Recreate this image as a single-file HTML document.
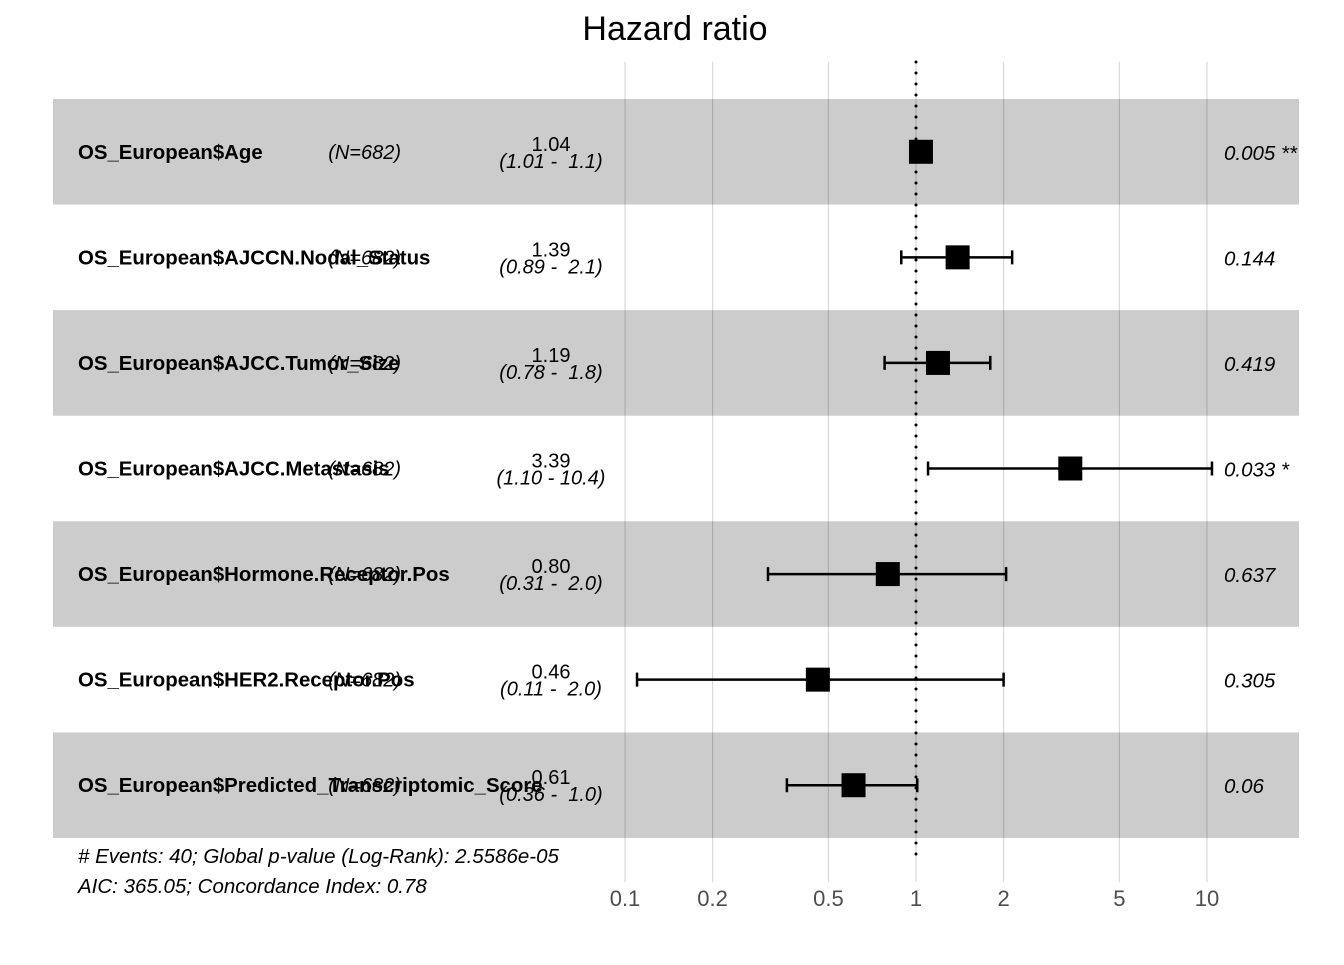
<!DOCTYPE html>
<html><head><meta charset="utf-8"><style>
body{margin:0;background:#fff}
svg text{font-family:"Liberation Sans",Arial,sans-serif;white-space:pre}
</style></head><body>
<svg id="chart" width="1344" height="960">
<text x="675" y="40" font-size="34" text-anchor="middle">Hazard ratio</text>
<g id="bands"></g><g id="grid"></g><g id="marks"></g><g id="labels"></g>
<text x="78" y="863" font-size="20.5" font-style="italic"># Events: 40; Global p-value (Log-Rank): 2.5586e-05</text>
<text x="78" y="893" font-size="20.5" font-style="italic">AIC: 365.05; Concordance Index: 0.78</text>
</svg>
<script>
const names=["OS_European$Age","OS_European$AJCCN.Nodal_Status","OS_European$AJCC.Tumor_Size","OS_European$AJCC.Metastasis","OS_European$Hormone.Receptor.Pos","OS_European$HER2.Receptor.Pos","OS_European$Predicted_Transcriptomic_Score"];
const nLabels=["(N=682)","(N=682)","(N=682)","(N=682)","(N=682)","(N=682)","(N=682)"];
const hr=[1.04,1.39,1.19,3.39,0.80,0.46,0.61];
const lo=[1.01,0.89,0.78,1.10,0.31,0.11,0.36];
const hi=[1.1,2.14,1.8,10.4,2.04,2.0,1.01];
const hrText=["1.04","1.39","1.19","3.39","0.80","0.46","0.61"];
const ciText=["(1.01 -  1.1)","(0.89 -  2.1)","(0.78 -  1.8)","(1.10 - 10.4)","(0.31 -  2.0)","(0.11 -  2.0)","(0.36 -  1.0)"];
const pText=["0.005 **","0.144","0.419","0.033 *","0.637","0.305","0.06"];
const ticks=[0.1,0.2,0.5,1,2,5,10];

const NS="http://www.w3.org/2000/svg";
const xs=v=>916+291*Math.log10(v);
const top0=99,rowH=(838-99)/7;
const yc=i=>top0+rowH*(i+0.5);
function mk(tag,attrs,parent,txt){const e=document.createElementNS(NS,tag);for(const k in attrs)e.setAttribute(k,attrs[k]);if(txt!==undefined)e.textContent=txt;document.getElementById(parent).appendChild(e);return e;}

names.forEach((n,i)=>{
  if(i%2===0){const b=mk('rect',{x:53,y:top0+rowH*i,width:1246,height:rowH,fill:'#cccccc'},'bands');
  
  }
});
ticks.forEach(t=>{
  const l=mk('line',{x1:xs(t),x2:xs(t),y1:62,y2:882,stroke:'#000','stroke-opacity':0.15,'stroke-width':1.2},'grid');
  
  
  const tx=mk('text',{x:xs(t),y:906,'font-size':22,fill:'#4d4d4d','text-anchor':'middle'},'grid',String(t));
  
  
});
const ref=mk('line',{x1:xs(1),x2:xs(1),y1:62,y2:855,stroke:'#000','stroke-width':3,'stroke-dasharray':'0 11','stroke-linecap':'round'},'grid');



names.forEach((n,i)=>{
  const y=yc(i);
  const w=mk('path',{d:`M${xs(lo[i])},${y}H${xs(hi[i])}M${xs(lo[i])},${y-7}V${y+7}M${xs(hi[i])},${y-7}V${y+7}`,stroke:'#000','stroke-width':2.5,fill:'none'},'marks');
  
  
  const s=mk('rect',{x:xs(hr[i])-12,y:y-12,width:24,height:24,fill:'#000'},'marks');
  
  
  const a=mk('text',{x:78,y:y+7,'font-size':20.4,'font-weight':'bold'},'labels',n);
  
  
  const b=mk('text',{x:401,y:y+7,'font-size':20,'font-style':'italic','text-anchor':'end'},'labels',nLabels[i]);
  
  
  const c=mk('text',{x:551,y:y-1,'font-size':20,'text-anchor':'middle'},'labels',hrText[i]);
  
  
  const d=mk('text',{x:551,y:y+16,'font-size':20,'font-style':'italic','text-anchor':'middle'},'labels',ciText[i]);
  
  
  const p=mk('text',{x:1224,y:y+8,'font-size':20.5,'font-style':'italic'},'labels',pText[i]);
  
  
});
</script>
</body></html>
